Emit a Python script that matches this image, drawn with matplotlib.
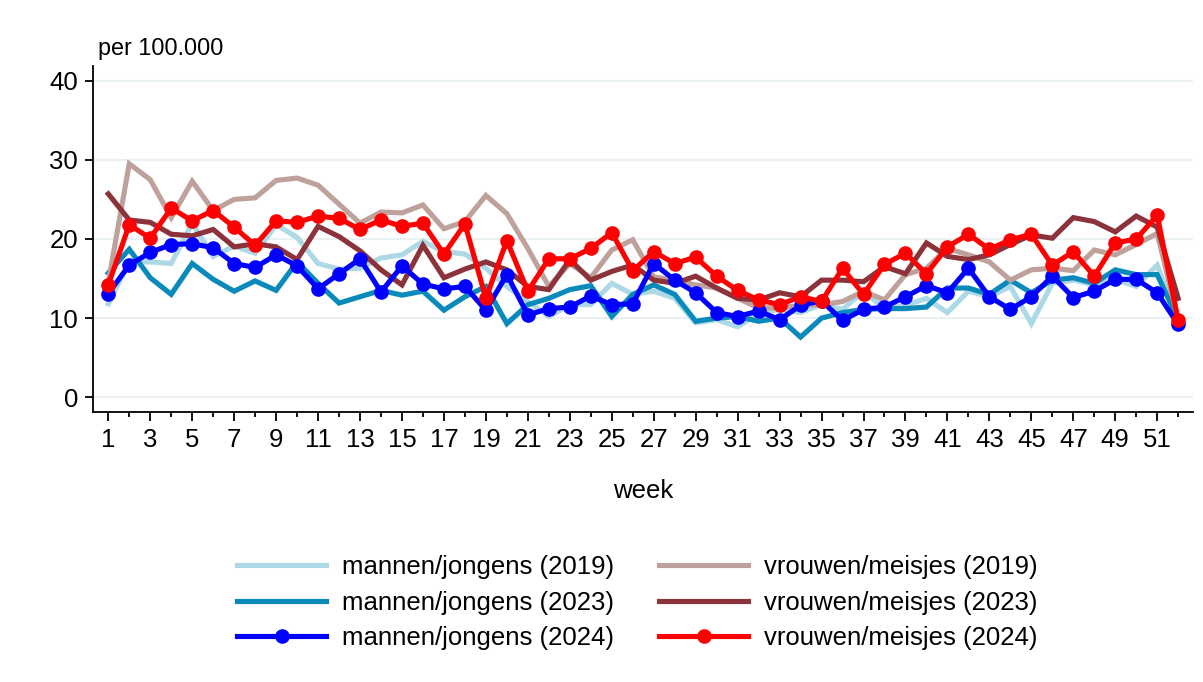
import matplotlib
matplotlib.use("Agg")
import matplotlib.pyplot as plt
import numpy as np

plt.rcParams['font.family'] = ['Liberation Sans', 'DejaVu Sans']

weeks = np.arange(1, 53)

# per 100.000
m2019 = [11.8, 17.1, 17.1, 16.9, 22.0, 17.8, 19.1, 18.2, 21.8, 20.2, 16.9, 16.2, 16.3,
         17.6, 18.0, 19.7, 18.4, 18.1, 16.3, 14.0, 12.1, 10.2, 11.7, 11.7, 14.4, 13.0,
         13.4, 12.5, 9.4, 9.8, 8.9, 10.6, 11.1, 10.7, 11.7, 11.1, 13.4, 11.2, 11.6, 12.5,
         10.7, 13.4, 12.7, 14.0, 9.3, 14.4, 14.8, 14.2, 14.9, 14.0, 16.7, 9.8]
m2023 = [15.7, 18.7, 15.1, 13.0, 16.9, 14.9, 13.4, 14.7, 13.5, 17.1, 14.4, 11.9, 12.7,
         13.5, 12.9, 13.4, 11.0, 12.7, 14.0, 9.3, 11.7, 12.5, 13.6, 14.1, 10.2, 13.0,
         14.2, 13.0, 9.6, 10.0, 10.2, 9.6, 10.0, 7.6, 10.0, 10.7, 11.1, 11.2, 11.2, 11.4,
         13.8, 13.8, 13.0, 14.8, 13.2, 14.8, 15.1, 14.4, 16.1, 15.5, 15.5, 9.8]
m2024 = [13.1, 16.7, 18.3, 19.3, 19.4, 18.9, 16.9, 16.4, 18.0, 16.6, 13.7, 15.6, 17.5,
         13.3, 16.6, 14.3, 13.7, 14.0, 11.0, 15.5, 10.4, 11.2, 11.4, 12.8, 11.7, 11.8,
         16.9, 14.8, 13.2, 10.7, 10.2, 10.9, 9.8, 11.6, 12.2, 9.7, 11.1, 11.4, 12.7, 14.1,
         13.2, 16.3, 12.7, 11.1, 12.7, 15.3, 12.6, 13.4, 14.9, 14.9, 13.2, 9.2]
v2019 = [14.5, 29.5, 27.5, 22.7, 27.3, 23.6, 25.0, 25.2, 27.4, 27.7, 26.8, 24.4, 22.0,
         23.4, 23.3, 24.3, 21.3, 22.2, 25.5, 23.2, 18.8, 14.0, 16.9, 15.1, 18.6, 19.9,
         15.2, 14.8, 14.2, 13.8, 12.5, 11.3, 11.3, 11.6, 11.7, 12.1, 13.4, 12.3, 15.5, 16.3,
         18.8, 18.0, 17.1, 14.8, 16.1, 16.3, 16.0, 18.6, 18.0, 19.3, 20.7, 9.8]
v2023 = [25.7, 22.4, 22.1, 20.6, 20.4, 21.2, 19.0, 19.4, 19.0, 17.4, 21.6, 20.3, 18.5,
         16.1, 14.2, 19.2, 15.1, 16.2, 17.1, 16.1, 14.0, 13.6, 17.4, 14.8, 15.9, 16.7,
         14.8, 14.4, 15.3, 13.8, 12.5, 12.3, 13.2, 12.7, 14.8, 14.8, 14.6, 16.5, 15.6, 19.5,
         17.8, 17.4, 18.0, 19.3, 20.5, 20.1, 22.7, 22.2, 20.9, 22.9, 21.5, 12.5]
v2024 = [14.2, 21.8, 20.1, 23.9, 22.3, 23.6, 21.5, 19.2, 22.3, 22.1, 22.9, 22.6, 21.2,
         22.4, 21.6, 22.0, 18.1, 21.9, 12.5, 19.8, 13.4, 17.5, 17.5, 18.8, 20.8, 16.0,
         18.4, 16.9, 17.7, 15.3, 13.5, 12.3, 11.7, 12.7, 12.1, 16.3, 13.0, 16.8, 18.2, 15.6,
         19.0, 20.6, 18.7, 19.9, 20.6, 16.7, 18.4, 15.3, 19.5, 20.0, 23.0, 9.7]

series = [
    ('mannen/jongens (2019)', m2019, '#add8e6', False),
    ('mannen/jongens (2023)', m2023, '#0a8abb', False),
    ('mannen/jongens (2024)', m2024, '#0000ff', True),
    ('vrouwen/meisjes (2019)', v2019, '#bfa19c', False),
    ('vrouwen/meisjes (2023)', v2023, '#8b323b', False),
    ('vrouwen/meisjes (2024)', v2024, '#ff0000', True),
]

fig = plt.figure(figsize=(12.03, 6.82), dpi=100)
ax = fig.add_axes([0.0771, 0.3955, 0.9143, 0.5077])

handles = {}
# draw 2019 and 2023 first, 2024 on top
for order in (False, True):
    for label, vals, color, marked in series:
        if marked != order:
            continue
        if marked:
            h, = ax.plot(weeks, vals, color=color, lw=3.7, marker='o', ms=9.5,
                         label=label, solid_joinstyle='round')
        else:
            h, = ax.plot(weeks, vals, color=color, lw=3.7, label=label,
                         solid_joinstyle='miter')
        handles[label] = h

ax.set_xlim(0.26, 52.69)
ax.set_ylim(-1.9, 41.86)
ax.set_yticks([0, 10, 20, 30, 40])
ax.set_xticks(np.arange(1, 52, 2))
ax.set_xticks(np.arange(2, 53, 2), minor=True)
ax.grid(axis='y', color='#e9f1f3', lw=1.5)
ax.set_axisbelow(True)

for s in ('top', 'right'):
    ax.spines[s].set_visible(False)
for s in ('left', 'bottom'):
    ax.spines[s].set_linewidth(1.3)

ax.tick_params(axis='both', which='major', labelsize=18.5, width=1.3, colors='black')
ax.tick_params(axis='x', which='major', length=6.5, pad=5)
ax.tick_params(axis='x', which='minor', length=3.5, width=1.3)
ax.tick_params(axis='y', which='major', length=5.5, pad=5)

ax.set_xlabel('week', fontsize=18.5, labelpad=19)
fig.text(0.0815, 0.929, 'per 100.000', fontsize=16.8, ha='left', va='center')

labels = [s[0] for s in series]
fig.legend([handles[l] for l in labels], labels, ncol=2, loc='center',
           bbox_to_anchor=(0.53, 0.116), frameon=False, fontsize=18.5,
           handlelength=3.46, handletextpad=0.62, columnspacing=1.75,
           labelspacing=0.45, numpoints=1)

fig.savefig('out.png', dpi=100)
